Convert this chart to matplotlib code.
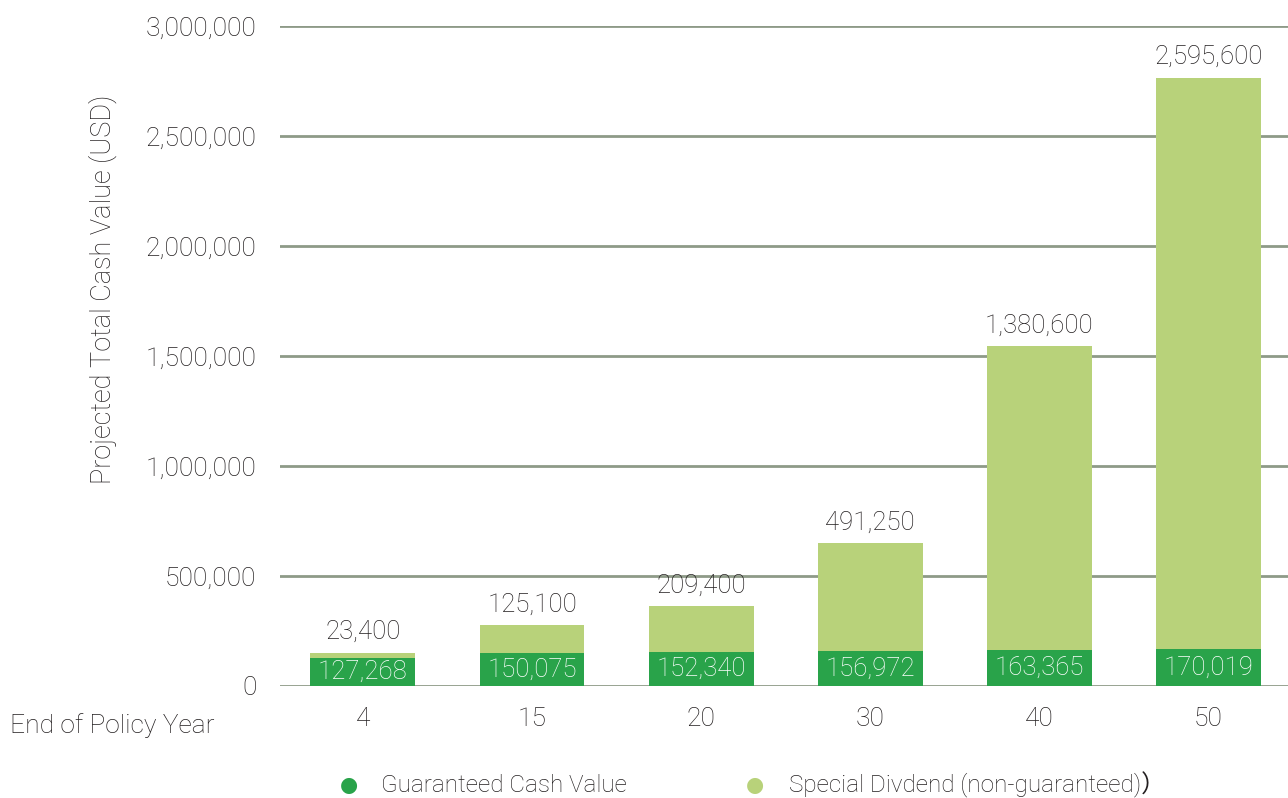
import matplotlib.pyplot as plt
from matplotlib.ticker import FuncFormatter

years = ['4', '15', '20', '30', '40', '50']
guaranteed = [127268, 150075, 152340, 156972, 163365, 170019]
dividend = [23400, 125100, 209400, 491250, 1380600, 2595600]
yticks = [0, 500000, 1000000, 1500000, 2000000, 2500000, 3000000]

dark_green = '#29a34a'
light_green = '#b8d27a'
grid_col = '#8e9a88'
text_col = '#231f20'

plt.rcParams['font.family'] = ['Roboto', 'Noto Sans CJK SC', 'DejaVu Sans']
plt.rcParams['font.weight'] = 'light'

fig = plt.figure(figsize=(12.88, 7.98), dpi=100)
ax = fig.add_axes([0.2174, 0.1404, 0.7826, 0.827])

x = list(range(len(years)))
ax.bar(x, guaranteed, width=0.62, color=dark_green, zorder=3)
ax.bar(x, dividend, width=0.62, bottom=guaranteed, color=light_green, zorder=3)

for xi, g, d in zip(x, guaranteed, dividend):
    ax.text(xi, g / 2, f'{g:,}', ha='center', va='center', color='white',
            fontsize=18.5, zorder=4)
    ax.text(xi, g + d + 40000, f'{d:,}', ha='center', va='bottom', color=text_col,
            fontsize=18.5, zorder=4)

ax.set_ylim(0, 3000000)
ax.set_xlim(-0.49, 5.47)
ax.set_yticks(yticks)
ax.yaxis.set_major_formatter(FuncFormatter(lambda v, p: f'{int(v):,}'))
ax.grid(axis='y', color=grid_col, linewidth=2, zorder=0)
for s in ax.spines.values():
    s.set_visible(False)
ax.tick_params(axis='both', length=0, labelsize=19, colors=text_col)
ax.tick_params(axis='y', pad=17)
ax.tick_params(axis='x', pad=15)
ax.set_xticks(x)
ax.set_xticklabels(years)

fig.text(103 / 1288, 1 - 289 / 798, 'Projected Total Cash Value (USD)', rotation=90,
         ha='center', va='center', fontsize=19.5, color=text_col)
fig.text(10 / 1288, 1 - 726 / 798, 'End of Policy Year', ha='left', va='center',
         fontsize=19, color=text_col)

# legend drawn by hand to match spacing
fig.text(349 / 1288, 1 - 785 / 798, '●', ha='center', va='center', fontsize=15,
         color=dark_green, family=['DejaVu Sans'], fontweight='normal')
fig.text(381 / 1288, 1 - 785 / 798, 'Guaranteed Cash Value', ha='left', va='center',
         fontsize=17.5, color=text_col)
fig.text(755 / 1288, 1 - 785 / 798, '●', ha='center', va='center', fontsize=15,
         color=light_green, family=['DejaVu Sans'], fontweight='normal')
fig.text(789 / 1288, 1 - 785 / 798, 'Special Divdend (non-guaranteed)）', ha='left',
         va='center', fontsize=17.5, color=text_col)

fig.savefig('out.png', dpi=100)
